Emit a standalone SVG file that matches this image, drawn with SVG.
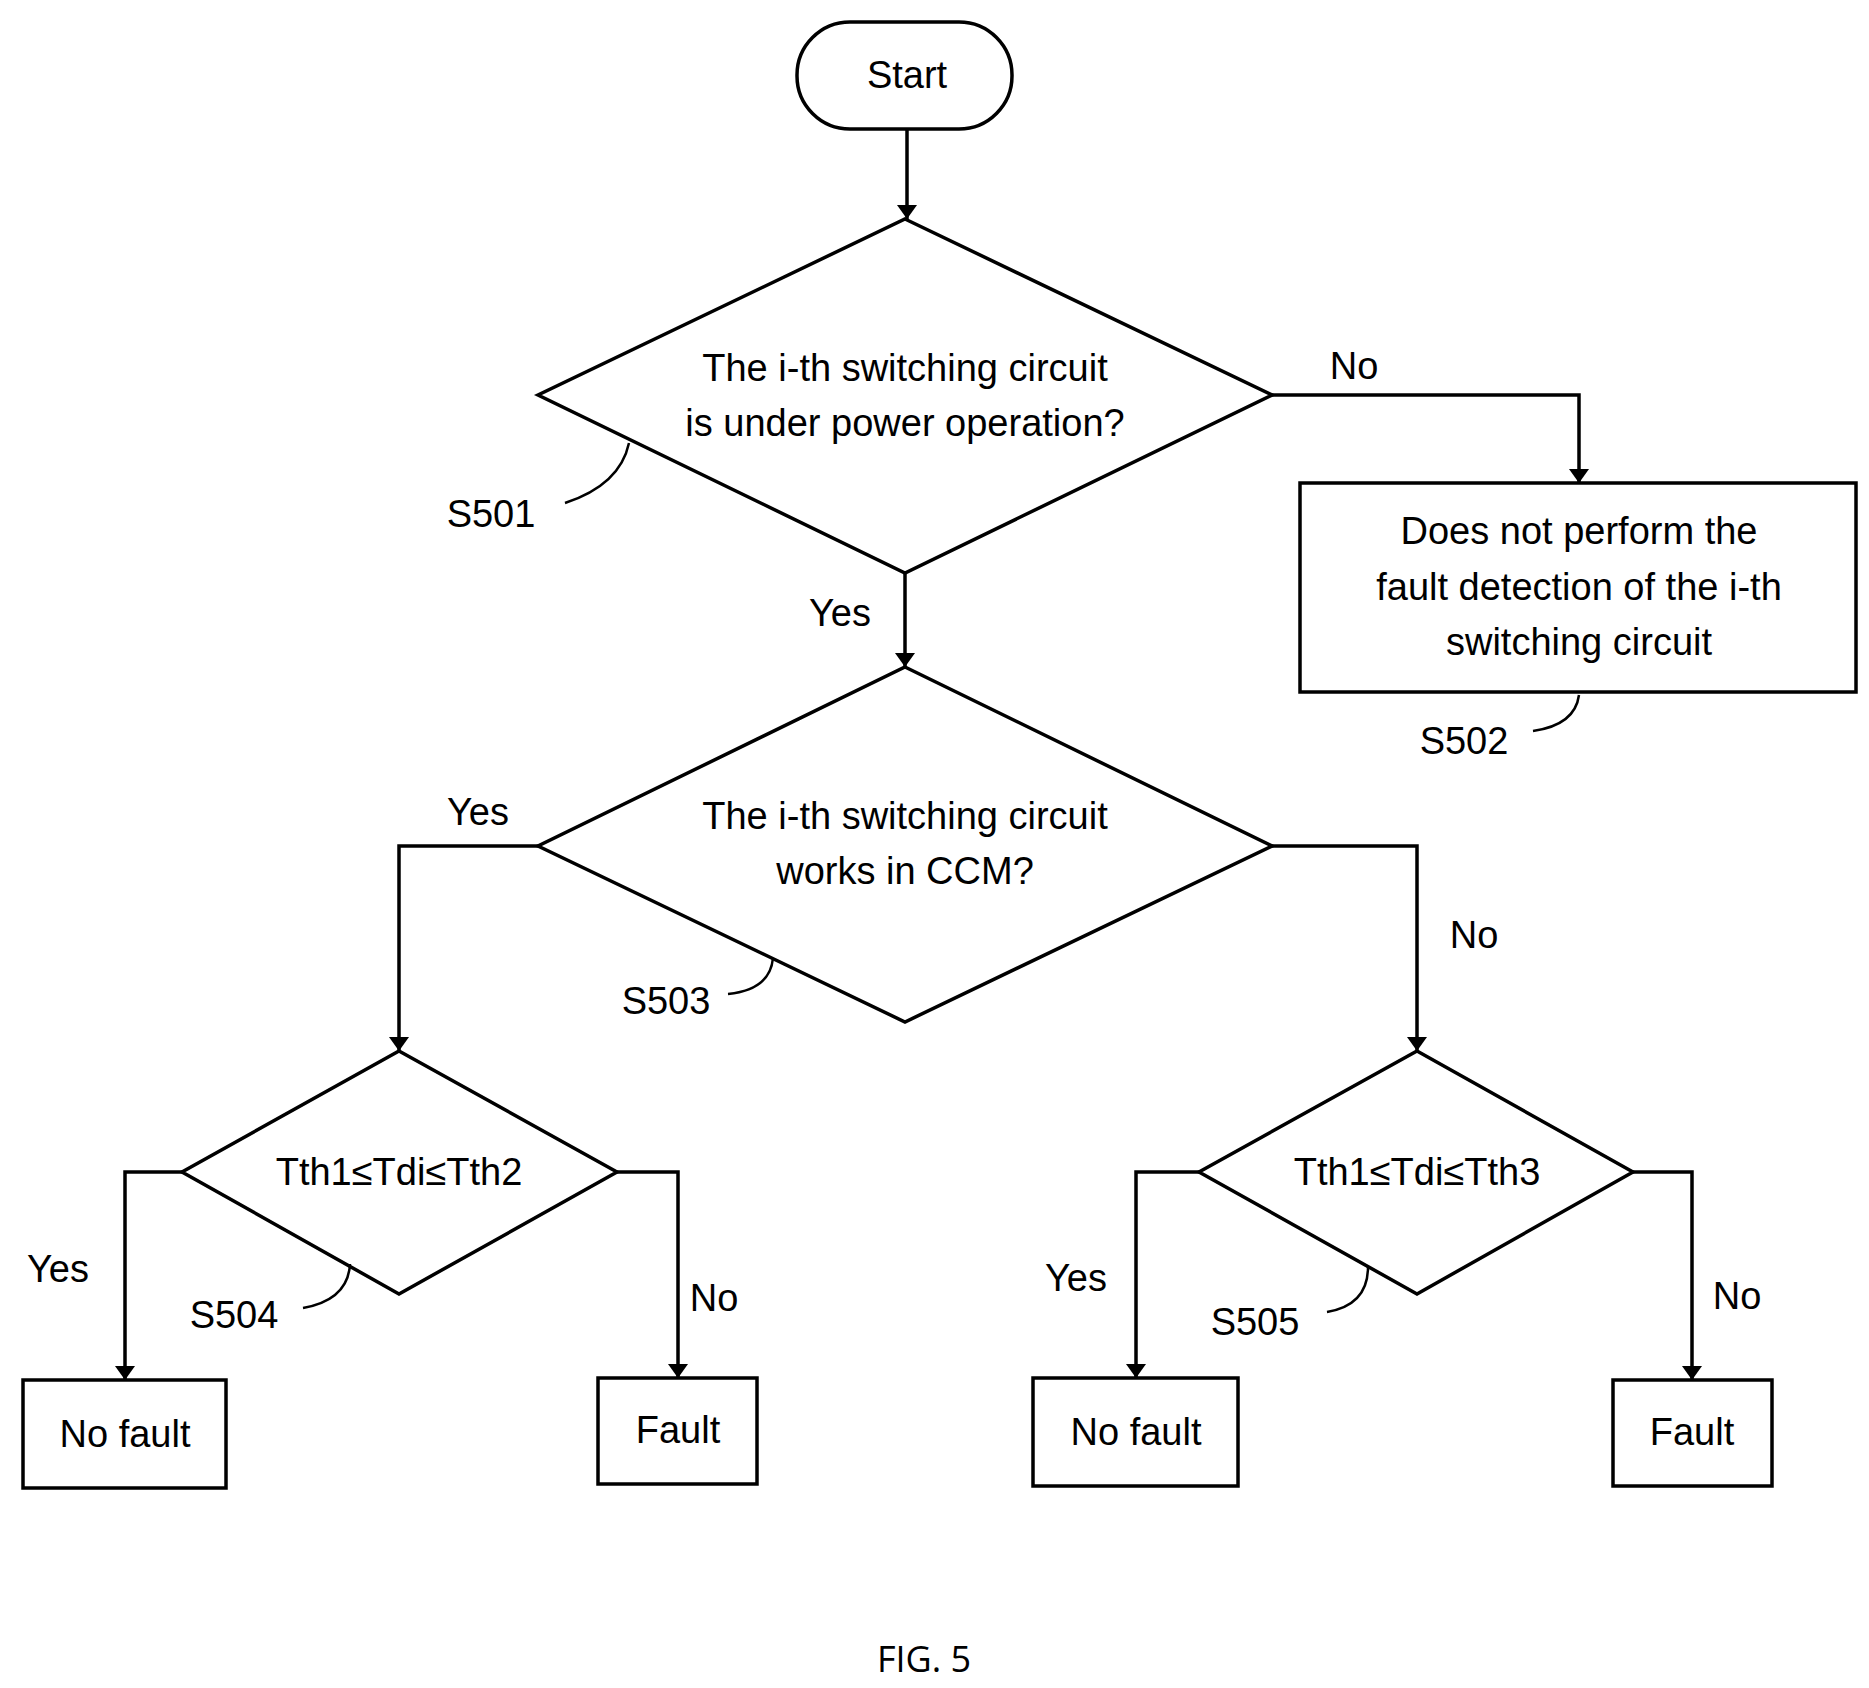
<svg xmlns="http://www.w3.org/2000/svg" width="1869" height="1688" viewBox="0 0 1869 1688">
<defs>
<marker id="ah" viewBox="0 0 10 10" refX="10" refY="5" markerWidth="14" markerHeight="20" markerUnits="userSpaceOnUse" orient="auto" preserveAspectRatio="none"><path d="M0,0 L10,5 L0,10 z" fill="#000"/></marker>
</defs>
<style>
.s{fill:#fff;stroke:#000;stroke-width:3.5}
.c{fill:none;stroke:#000;stroke-width:3.5}
.a{marker-end:url(#ah)}
.l{fill:none;stroke:#000;stroke-width:2.5}
text{font-family:"Liberation Sans",Arial,sans-serif;font-size:38px;fill:#000}
.m{text-anchor:middle}
</style>
<rect width="1869" height="1688" fill="#fff"/>
<g id="connectors">
<path class="c a" d="M907,129 V219"/>
<path class="c a" d="M1272,395 H1579 V483"/>
<path class="c a" d="M905,573 V667"/>
<path class="c a" d="M538,846 H399 V1051"/>
<path class="c a" d="M1272,846 H1417 V1051"/>
<path class="c a" d="M182,1172 H125 V1380"/>
<path class="c a" d="M617,1172 H678 V1378"/>
<path class="c a" d="M1199,1172 H1136 V1378"/>
<path class="c a" d="M1633,1172 H1692 V1380"/>
<text x="1354" y="379" class="m">No</text>
<text x="840" y="626" class="m">Yes</text>
<text x="478" y="825" class="m">Yes</text>
<text x="1474" y="948" class="m">No</text>
<text x="58" y="1282" class="m">Yes</text>
<text x="714" y="1311" class="m">No</text>
<text x="1076" y="1291" class="m">Yes</text>
<text x="1737" y="1309" class="m">No</text>
</g>
<g id="start"><rect class="s" x="797" y="22" width="215" height="107" rx="53"/><text x="907" y="88" class="m">Start</text></g>
<g id="S501"><path class="s" d="M905,219 L1272,395 L905,573 L538,395 Z"/>
<text x="905" y="381" class="m">The i-th switching circuit</text><text x="905" y="436" class="m">is under power operation?</text>
<path class="l" d="M565,503 Q620,485 629,443"/><text x="491" y="527" class="m">S501</text></g>
<g id="S502"><rect class="s" x="1300" y="483" width="556" height="209"/>
<text x="1579" y="544" class="m">Does not perform the</text><text x="1579" y="600" class="m">fault detection of the i-th</text><text x="1579" y="655" class="m">switching circuit</text>
<path class="l" d="M1533,731 Q1575,725 1579,695"/><text x="1464" y="754" class="m">S502</text></g>
<g id="S503"><path class="s" d="M905,667 L1272,846 L905,1022 L538,846 Z"/>
<text x="905" y="829" class="m">The i-th switching circuit</text><text x="905" y="884" class="m">works in CCM?</text>
<path class="l" d="M728,994 Q770,990 773,958"/><text x="666" y="1014" class="m">S503</text></g>
<g id="S504"><path class="s" d="M399,1051 L617,1172 L399,1294 L182,1172 Z"/>
<text x="399" y="1185" class="m">Tth1≤Tdi≤Tth2</text>
<path class="l" d="M303,1308 Q348,1300 350,1264"/><text x="234" y="1328" class="m">S504</text></g>
<g id="S505"><path class="s" d="M1417,1051 L1633,1172 L1417,1294 L1199,1172 Z"/>
<text x="1417" y="1185" class="m">Tth1≤Tdi≤Tth3</text>
<path class="l" d="M1327,1312 Q1368,1305 1368,1267"/><text x="1255" y="1335" class="m">S505</text></g>
<g id="nf1"><rect class="s" x="23" y="1380" width="203" height="108"/><text x="125" y="1447" class="m">No fault</text></g>
<g id="f1"><rect class="s" x="598" y="1378" width="159" height="106"/><text x="678" y="1443" class="m">Fault</text></g>
<g id="nf2"><rect class="s" x="1033" y="1378" width="205" height="108"/><text x="1136" y="1445" class="m">No fault</text></g>
<g id="f2"><rect class="s" x="1613" y="1380" width="159" height="106"/><text x="1692" y="1445" class="m">Fault</text></g>
<text x="924" y="1672" class="m" style="font-family:'Open Sans','Noto Sans',sans-serif;font-size:36px">FIG. 5</text>
</svg>
